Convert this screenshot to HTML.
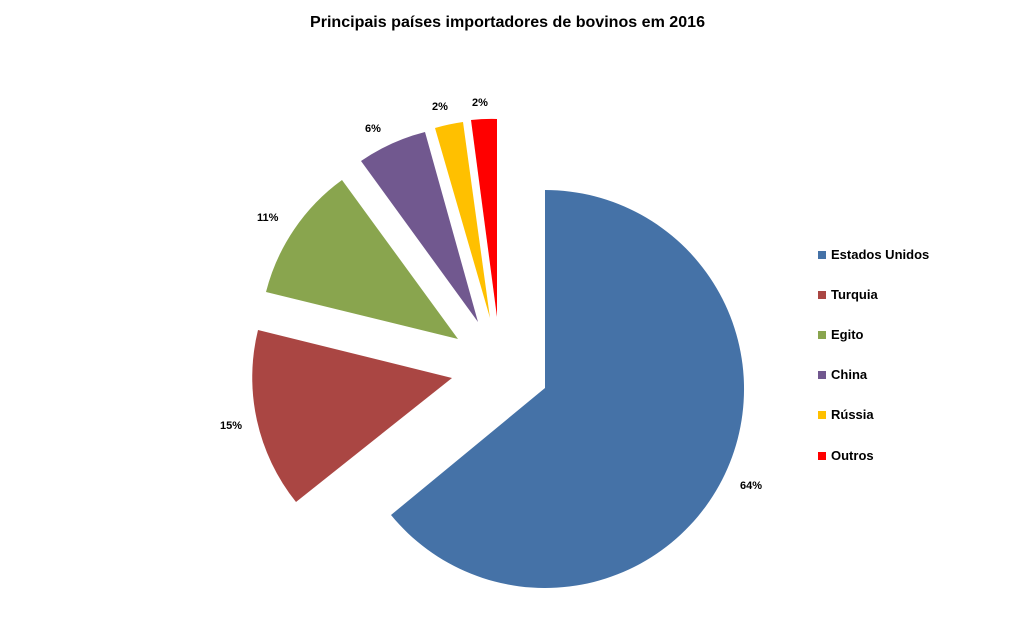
<!DOCTYPE html>
<html><head><meta charset="utf-8"><style>
body{margin:0;background:#fff;}
svg{display:block;font-family:"Liberation Sans",sans-serif;}
</style></head><body>
<svg width="1013" height="632" viewBox="0 0 1013 632">
<text x="310" y="27" textLength="395" lengthAdjust="spacingAndGlyphs" font-size="15.5" font-weight="bold" fill="#000">Principais países importadores de bovinos em 2016</text>
<path d="M545,388 L545,190 A199,199 0 1 1 391,515 Z" fill="#4572A7"/>
<path d="M452,378 L296,502 A199,199 0 0 1 258,330 Z" fill="#AA4643"/>
<path d="M458,339 L266,292 A199,199 0 0 1 342,180 Z" fill="#89A54E"/>
<path d="M478,322 L361,161 A199,199 0 0 1 425,132 Z" fill="#71588F"/>
<path d="M490,318 L435,128 A199,199 0 0 1 463,122 Z" fill="#FFC000"/>
<path d="M497,317 L471,120 A199,199 0 0 1 497,119 Z" fill="#FF0000"/>
<g font-size="11" font-weight="bold" fill="#000">
<text x="740" y="489">64%</text>
<text x="220" y="429">15%</text>
<text x="257" y="221">11%</text>
<text x="365" y="132">6%</text>
<text x="432" y="110">2%</text>
<text x="472" y="106">2%</text>
</g>
<g font-size="13" font-weight="bold" fill="#000">
<rect x="818" y="251" width="8" height="8" fill="#4572A7"/><text x="831" y="259">Estados Unidos</text>
<rect x="818" y="291" width="8" height="8" fill="#AA4643"/><text x="831" y="299">Turquia</text>
<rect x="818" y="331" width="8" height="8" fill="#89A54E"/><text x="831" y="339">Egito</text>
<rect x="818" y="371" width="8" height="8" fill="#71588F"/><text x="831" y="379">China</text>
<rect x="818" y="411" width="8" height="8" fill="#FFC000"/><text x="831" y="419">Rússia</text>
<rect x="818" y="452" width="8" height="8" fill="#FF0000"/><text x="831" y="460">Outros</text>
</g>
</svg>
</body></html>
